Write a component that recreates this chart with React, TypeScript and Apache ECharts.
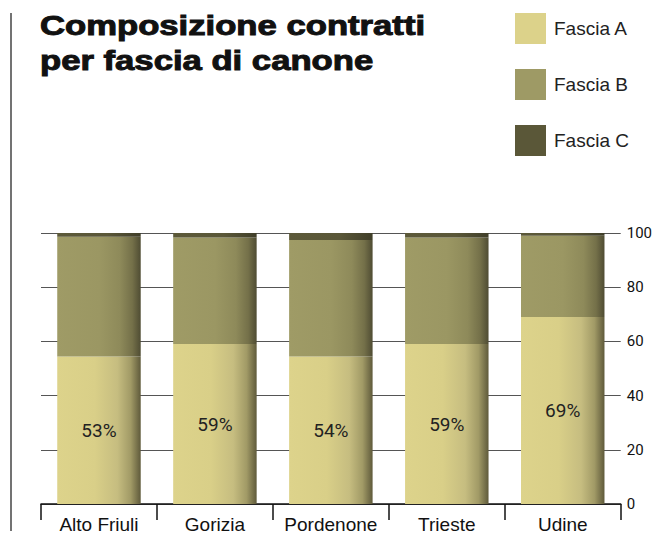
import React, { useEffect, useRef } from "react";
import * as echarts from "echarts";

const categories = ["Alto Friuli", "Gorizia", "Pordenone", "Trieste", "Udine"];
const fasciaA = [54.4, 59.0, 54.4, 59.0, 69.0];
const fasciaB = [44.2, 39.3, 43.0, 39.3, 30.0];
const fasciaC = [1.4, 1.7, 2.6, 1.7, 1.0];
const labelsA = ["53%", "59%", "54%", "59%", "69%"];
const seriesNames = ["Fascia A", "Fascia B", "Fascia C"];
const solidColors = ["#dcd28a", "#9e9a65", "#5a5738"];
const yTicks = { min: 0, max: 100, interval: 20 };

const grad = (stops: [number, string][]) =>
  new echarts.graphic.LinearGradient(
    0, 0, 1, 0,
    stops.map(([offset, color]) => ({ offset, color }))
  );

export default function App() {
  const ref = useRef<HTMLDivElement>(null);
  useEffect(() => {
    document.body.style.margin = "0";
    if (!ref.current) return;
    const chart = echarts.init(ref.current, undefined, { renderer: "svg" });
    const gradA = grad([[0, "#ddd38b"], [0.45, "#d9cf88"], [0.72, "#c6bd80"], [0.88, "#a19a66"], [1, "#5f5a3b"]]);
    const gradB = grad([[0, "#9f9b66"], [0.5, "#9b9763"], [0.75, "#8e8a5a"], [0.9, "#747049"], [1, "#4f4c33"]]);
    const gradC = grad([[0, "#5c5939"], [0.6, "#5a5738"], [1, "#403e29"]]);
    const grads = [gradA, gradB, gradC];
    const datas = [fasciaA, fasciaB, fasciaC];
    chart.setOption({
      animation: false,
      grid: { left: 41, right: 29, top: 233, bottom: 33, containLabel: false },
      legend: {
        orient: "vertical",
        left: 515,
        top: 13,
        padding: 0,
        itemWidth: 31,
        itemHeight: 31,
        itemGap: 25,
        icon: "rect",
        selectedMode: false,
        textStyle: { fontFamily: "Liberation Sans", fontSize: 19, color: "#222", padding: [0, 0, 0, 3] },
        data: seriesNames.map((n, i) => ({ name: n, itemStyle: { color: solidColors[i] } })),
      },
      xAxis: {
        type: "category",
        data: categories,
        axisLine: { lineStyle: { color: "#111", width: 1.5 } },
        axisTick: { show: true, interval: 0, length: 16, lineStyle: { color: "#111", width: 1.5 } },
        axisLabel: { interval: 0, fontFamily: "Liberation Sans", fontSize: 19, color: "#111", margin: 11, lineHeight: 19 },
      },
      yAxis: {
        type: "value",
        position: "right",
        min: yTicks.min,
        max: yTicks.max,
        interval: yTicks.interval,
        axisLine: { show: false },
        axisTick: { show: false },
        splitLine: { lineStyle: { color: "#555", width: 1.2 } },
        axisLabel: { fontFamily: "Roboto", fontSize: 15, color: "#111", margin: 6 },
      },
      series: seriesNames.map((name, i) => ({
        name,
        type: "bar",
        stack: "total",
        barCategoryGap: "28%",
        data: datas[i],
        itemStyle: { color: grads[i] },
        label:
          i === 0
            ? {
                show: true,
                position: "inside",
                fontFamily: "Roboto",
                fontSize: 19,
                color: "#222",
                formatter: (p: any) => labelsA[p.dataIndex],
              }
            : { show: false },
      })),
      graphic: [
        {
          type: "line",
          shape: { x1: 11, y1: 13, x2: 11, y2: 531 },
          style: { stroke: "#444", lineWidth: 1.5 },
        },
        {
          type: "text",
          x: 40,
          y: 25,
          scaleX: 1.238,
          style: {
            text: "Composizione contratti",
            font: "bold 28px 'Liberation Sans'",
            fill: "#111",
            stroke: "#111",
            lineWidth: 1.0,
            verticalAlign: "middle",
          },
        },
        {
          type: "text",
          x: 40,
          y: 60,
          scaleX: 1.238,
          style: {
            text: "per fascia di canone",
            font: "bold 28px 'Liberation Sans'",
            fill: "#111",
            stroke: "#111",
            lineWidth: 1.0,
            verticalAlign: "middle",
          },
        },
      ],
    });
    return () => chart.dispose();
  }, []);
  return <div ref={ref} style={{ width: 655, height: 537 }} />;
}
